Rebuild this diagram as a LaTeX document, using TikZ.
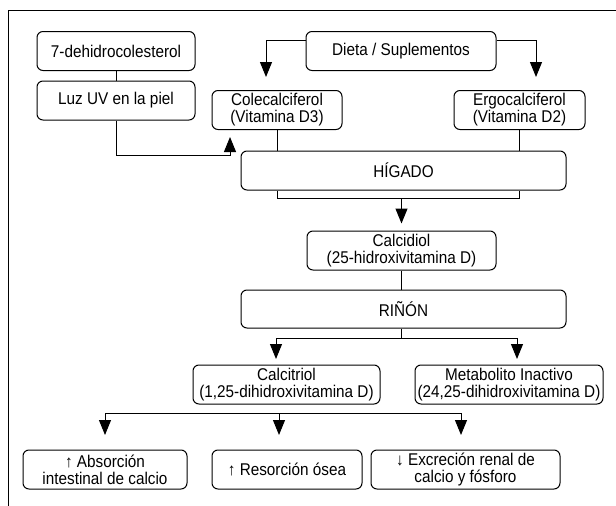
\documentclass[tikz,border=0pt]{standalone}
\usepackage{fontspec}
\setmainfont{Liberation Sans}[FakeStretch=0.9]
\usetikzlibrary{arrows.meta}

\tikzset{
  caja/.style={draw, rounded corners=6pt, line width=1pt, inner sep=0pt,
    minimum height=39pt, align=center, font=\fontsize{17}{17}\selectfont},
  flecha/.style={-{Triangle[length=15pt,width=12pt]}, line width=1pt},
  linea/.style={line width=1pt}
}

\begin{document}
\begin{tikzpicture}[x=1pt, y=-1pt]
\useasboundingbox (0,0) rectangle (616,506);
% marco
\draw[linea] (616,10) -- (8,10) -- (8,506);

% origen
\node[caja, minimum width=158pt] (dehidro) at (116,51) {7-dehidrocolesterol};
\node[caja, minimum width=158pt] (luzuv) at (116,100.5) {Luz UV en la piel};
\node[caja, minimum width=190pt] (dieta) at (401,51) {Dieta / Suplementos};
\node[caja, minimum width=130pt] (coleca) at (277,110) {Colecalciferol\\(Vitamina D3)};
\node[caja, minimum width=131pt] (ergoca) at (519.5,110) {Ergocalciferol\\(Vitamina D2)};

% organos
\node[caja, minimum width=325pt] (higado) at (403.5,170.5) {HÍGADO};
\node[caja, minimum width=189pt] (calcidiol) at (401.5,250.5) {Calcidiol\\(25-hidroxivitamina D)};
\node[caja, minimum width=325pt, minimum height=38pt] (rinon) at (403.5,309) {RIÑÓN};
\node[caja, minimum width=187pt] (calcitriol) at (286.5,384.5) {Calcitriol\\(1,25-dihidroxivitamina D)};
\node[caja, minimum width=188pt] (metabolito) at (509,384.5) {Metabolito Inactivo\\(24,25-dihidroxivitamina D)};

% efectos
\node[caja, minimum width=164pt] (absorcion) at (105,469.5) {↑ Absorción\\intestinal de calcio};
\node[caja, minimum width=150pt] (resorcion) at (287,469.5) {↑ Resorción ósea};
\node[caja, minimum width=189pt] (excrecion) at (465.5,469.5) {↓ Excreción renal de\\calcio y fósforo};

% puntos libres
\coordinate (ptuv) at (230,137);
\coordinate (ptdietaizq) at (266,77);
\coordinate (ptdietader) at (536,77);
\coordinate (hbarra) at (401.5,198);
\coordinate (rbarra) at (401.5,338);
\coordinate (ptcalcitriol) at (276,359);
\coordinate (ptmetab) at (517,359);
\coordinate (cbarra) at (279,413);
\coordinate (ptabs) at (105,435);
\coordinate (ptres) at (279,435);
\coordinate (ptexc) at (461,435);

% conexiones
\draw[linea] (dehidro) -- (luzuv);
\draw[flecha] (luzuv.south) -- ++(0,35) -| (ptuv);
\draw[flecha] ([yshift=11pt]dieta.west) -| (ptdietaizq);
\draw[flecha] ([yshift=11pt]dieta.east) -| (ptdietader);
\draw[linea] (coleca.south) -- (coleca.south |- higado.north);
\draw[linea] (ergoca.south) -- (ergoca.south |- higado.north);
\draw[linea] (coleca.south |- higado.south) -- ++(0,8) -| (ergoca.south |- higado.south);
\draw[flecha] (hbarra) -- ([yshift=7pt]calcidiol.north);
\draw[linea] (calcidiol.south) -- (calcidiol.south |- rinon.north);
\draw[linea] (calcidiol.south |- rinon.south) -- (rbarra);
\draw[flecha] (rbarra) -| (ptcalcitriol);
\draw[flecha] (rbarra) -| (ptmetab);
\draw[flecha] (cbarra) -| (ptabs);
\draw[flecha] (cbarra) -- (ptres);
\draw[flecha] (cbarra) -| (ptexc);
\end{tikzpicture}
\end{document}
